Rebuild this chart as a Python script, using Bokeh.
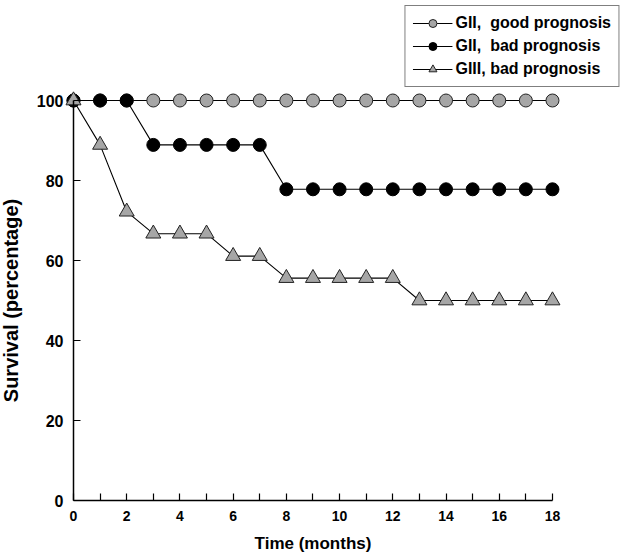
from bokeh.plotting import figure
from bokeh.models import Legend, LegendItem, FixedTicker, Range1d
from bokeh.embed import file_html
from bokeh.resources import INLINE

months = list(range(0, 19))
gii_good = [100.0] * 19
gii_bad = [100.0, 100.0, 100.0, 88.9, 88.9, 88.9, 88.9, 88.9,
           77.8, 77.8, 77.8, 77.8, 77.8, 77.8, 77.8, 77.8, 77.8, 77.8, 77.8]
giii_bad = [100.0, 88.9, 72.2, 66.7, 66.7, 66.7, 61.1, 61.1,
            55.6, 55.6, 55.6, 55.6, 55.6, 50.0, 50.0, 50.0, 50.0, 50.0, 50.0]
labels = ["GII,  good prognosis", "GII,  bad prognosis", "GIII, bad prognosis"]
x_ticks = [0, 2, 4, 6, 8, 10, 12, 14, 16, 18]
x_minor = [1, 3, 5, 7, 9, 11, 13, 15, 17]
y_ticks = [0, 20, 40, 60, 80, 100]

FONT = "Liberation Sans"
GREY = "#a6a6a6"

p = figure(width=624, height=560, output_backend="svg", toolbar_location=None,
           x_range=Range1d(-2.743, 20.707), y_range=Range1d(-15, 125),
           min_border_left=0, min_border_right=0, min_border_top=0,
           min_border_bottom=0)
p.outline_line_color = None
p.grid.visible = False
p.background_fill_color = "white"

# series
l1 = p.line(months, gii_good, line_color="black", line_width=1.1)
s1 = p.scatter(months, gii_good, marker="circle", size=13, fill_color=GREY,
               line_color="#222222", line_width=1)
l2 = p.line(months, gii_bad, line_color="black", line_width=1.1)
s2 = p.scatter(months, gii_bad, marker="circle", size=13, fill_color="black",
               line_color="black", line_width=1)
l3 = p.line(months, giii_bad, line_color="black", line_width=1.1)
s3 = p.scatter(months, giii_bad, marker="triangle", size=15, fill_color=GREY,
               line_color="#222222", line_width=1)

# axes
xa = p.xaxis[0]
xa.fixed_location = 0
xa.bounds = (0, 18)
xa.ticker = FixedTicker(ticks=x_ticks, minor_ticks=x_minor)
xa.major_tick_in = 7
xa.major_tick_out = 0
xa.minor_tick_in = 7
xa.minor_tick_out = 0
xa.axis_line_width = 1.5
xa.axis_line_color = "black"
xa.major_tick_line_width = 1.2
xa.minor_tick_line_width = 1.2
xa.axis_label = "Time (months)"
xa.axis_label_text_font = FONT
xa.axis_label_text_font_style = "bold"
xa.axis_label_text_font_size = "17px"
xa.axis_label_text_color = "black"
xa.axis_label_standoff = 10
xa.major_label_text_font = FONT
xa.major_label_text_font_style = "bold"
xa.major_label_text_font_size = "14px"
xa.major_label_text_color = "black"
xa.major_label_standoff = 10

ya = p.yaxis[0]
ya.fixed_location = 0
ya.bounds = (0, 100)
ya.ticker = FixedTicker(ticks=y_ticks, minor_ticks=[])
ya.major_tick_in = 7
ya.major_tick_out = 0
ya.minor_tick_in = 0
ya.minor_tick_out = 0
ya.axis_line_width = 1.5
ya.axis_line_color = "black"
ya.major_tick_line_width = 1.2
ya.axis_label = "Survival (percentage)"
ya.axis_label_text_font = FONT
ya.axis_label_text_font_style = "bold"
ya.axis_label_text_font_size = "20px"
ya.axis_label_text_color = "black"
ya.axis_label_standoff = 12
ya.major_label_text_font = FONT
ya.major_label_text_font_style = "bold"
ya.major_label_text_font_size = "16px"
ya.major_label_text_color = "black"
ya.major_label_standoff = 10

legend = Legend(items=[
    LegendItem(label=labels[0], renderers=[l1, s1]),
    LegendItem(label=labels[1], renderers=[l2, s2]),
    LegendItem(label=labels[2], renderers=[l3, s3]),
], location="top_right")
legend.margin = 5
legend.padding = 7
legend.spacing = 3
legend.glyph_width = 40
legend.glyph_height = 20
legend.label_height = 20
legend.label_standoff = 3
legend.label_text_font = FONT
legend.label_text_font_style = "bold"
legend.label_text_font_size = "16px"
legend.label_text_color = "black"
legend.border_line_color = "black"
legend.border_line_width = 1.2
legend.background_fill_alpha = 1
p.add_layout(legend)

open("out.html", "w").write(file_html(p, INLINE))
